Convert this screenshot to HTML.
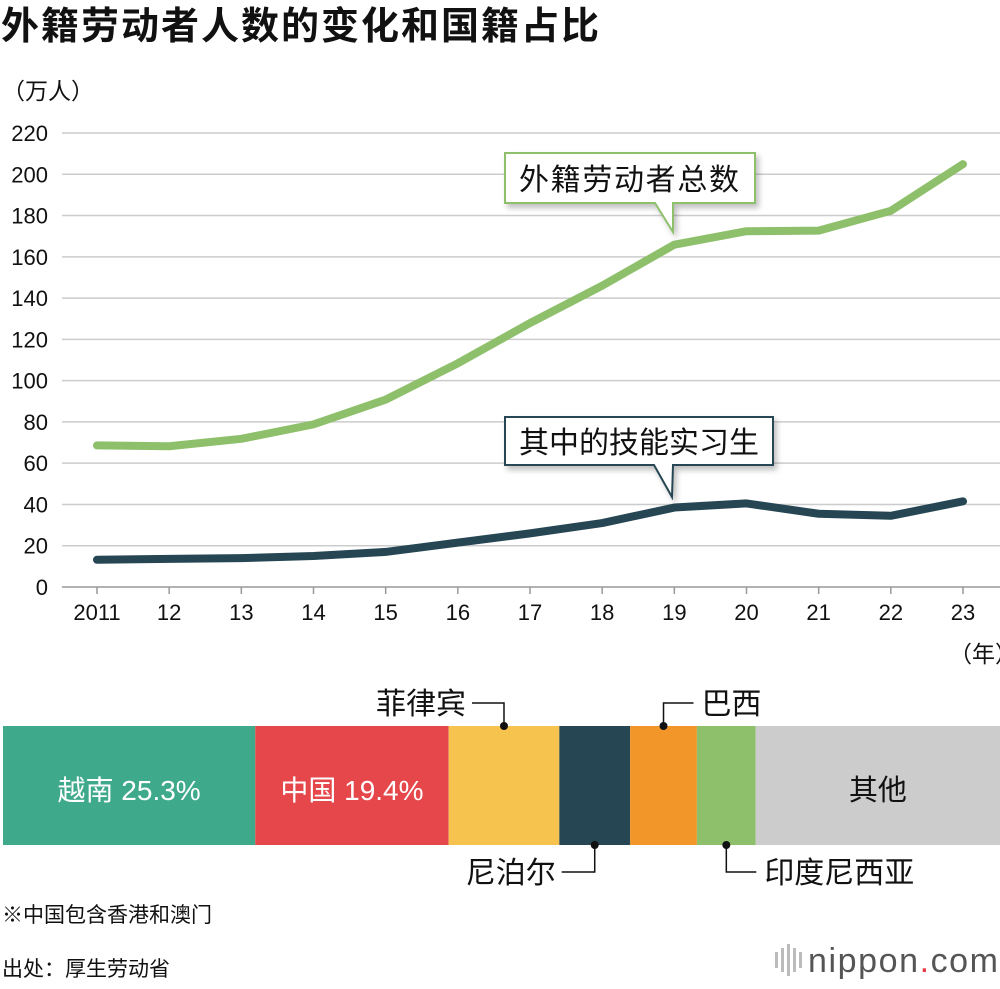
<!DOCTYPE html>
<html><head><meta charset="utf-8">
<style>
body{margin:0;background:#fff;width:1000px;height:984px;overflow:hidden;font-family:"Liberation Sans","Noto Sans CJK SC",sans-serif;}
svg text{font-family:"Liberation Sans","Noto Sans CJK SC",sans-serif;}
</style></head>
<body>
<svg id="c" width="1000" height="984" xmlns="http://www.w3.org/2000/svg">
<defs><filter id="sh" x="-10%" y="-10%" width="130%" height="140%"><feDropShadow dx="3" dy="4" stdDeviation="3" flood-color="#000" flood-opacity="0.25"/></filter></defs>
<text x="1" y="39" font-size="38" font-weight="bold" fill="#111" textLength="598">外籍劳动者人数的变化和国籍占比</text>
<text x="2" y="99" font-size="23" fill="#111">（万人）</text>
<g id="grid"></g>
<g id="lines"></g>
<g filter="url(#sh)">
<path d="M505,153 H755 V203 H673 L673,232 L655,203 H505 Z" fill="#fff" stroke="#8ec06c" stroke-width="2"/>
</g>
<text x="519" y="190" font-size="30" fill="#111" textLength="220">外籍劳动者总数</text>
<g filter="url(#sh)">
<path d="M505,417 H773 V465 H673 L672,497 L654,465 H505 Z" fill="#fff" stroke="#264653" stroke-width="2"/>
</g>
<text x="519" y="453" font-size="30" fill="#111" textLength="240">其中的技能实习生</text>
<text x="949" y="662" font-size="23" fill="#111">（年）</text>
<g id="bar"></g>
<text x="2" y="922" font-size="21" fill="#111">※中国包含香港和澳门</text>
<text x="2" y="976" font-size="21" fill="#111">出处：厚生劳动省</text>
<g>
<rect x="775" y="952" width="3" height="16" fill="#bbb"/><rect x="781" y="948" width="3" height="24" fill="#bbb"/><rect x="787" y="944" width="3" height="32" fill="#bbb"/><rect x="793" y="948" width="3" height="24" fill="#bbb"/><rect x="799" y="952" width="3" height="16" fill="#bbb"/>
<text x="808" y="972" font-size="34" fill="#555" textLength="190">nippon<tspan fill="#e63946">.</tspan>com</text>
</g>
</svg>
<script>
const years=["2011","12","13","14","15","16","17","18","19","20","21","22","23"];
const totalWorkers=[68.6,68.2,71.8,78.8,90.8,108.4,127.9,146.0,165.9,172.4,172.7,182.3,204.9];
const trainees=[13.2,13.6,14.0,15.0,17.0,21.5,26.0,31.0,38.5,40.5,35.5,34.5,41.5];
const yTicks=[0,20,40,60,80,100,120,140,160,180,200,220];
const shareNames=["越南","中国","菲律宾","尼泊尔","巴西","印度尼西亚","其他"];
const shareValues=[25.3,19.4,11.1,7.1,6.7,5.9,24.5];
const NS="http://www.w3.org/2000/svg";
const X=i=>97+i*(963-97)/12, Y=v=>587-v*(587-133)/220;
function mk(t,a,p){const e=document.createElementNS(NS,t);for(const k in a)e.setAttribute(k,a[k]);p.appendChild(e);return e;}
const grid=document.getElementById('grid');
yTicks.forEach(v=>{
 const l=mk('line',{x1:62,x2:1000,y1:Y(v),y2:Y(v),stroke:v===0?'#999':'#ccc','stroke-width':1.5},grid);
 
 
 const t=mk('text',{x:48,y:Y(v)+8,'font-size':22,'text-anchor':'end',fill:'#111'},grid);t.textContent=v;
 
 
});
years.forEach((y,i)=>{
 const k=mk('line',{x1:X(i),x2:X(i),y1:587,y2:594,stroke:'#999','stroke-width':1.5},grid);
 
 
 const t=mk('text',{x:X(i),y:620,'font-size':22,'text-anchor':'middle',fill:'#111'},grid);t.textContent=y;
 
 
});
const lines=document.getElementById('lines');
[[totalWorkers,'#8ec06c','total-workers-line'],[trainees,'#264653','trainees-line']].forEach(([d,c,n])=>{
 const p=mk('polyline',{points:d.map((v,i)=>X(i)+','+Y(v)).join(' '),fill:'none',stroke:c,'stroke-width':8,'stroke-linejoin':'round','stroke-linecap':'round'},lines);
 
 
});
const bar=document.getElementById('bar');
const colors=['#3fa98c','#e5474b','#f7c34f','#264653','#f2962a','#8ec06c','#cccccc'];
const total=shareValues.reduce((a,b)=>a+b,0);
let x0=3;const W=997;
shareValues.forEach((v,i)=>{
 const w=v/total*W;
 const r=mk('rect',{x:x0,y:726,width:w,height:119,fill:colors[i]},bar);
 
 
 const cx=x0+w/2;
 if(i===0||i===1){const t=mk('text',{x:cx,y:800,'font-size':28,'text-anchor':'middle',fill:'#fff'},bar);t.textContent=shareNames[i]+' '+v+'%';
  }
 else if(i===6){const t=mk('text',{x:cx,y:800,'font-size':29,'text-anchor':'middle',fill:'#111'},bar);t.textContent=shareNames[i];
  }
 else{
  const top=(i===2||i===4);
  const py=top?703:872;
  mk('circle',{cx:cx,cy:top?726:845,r:4,fill:'#111'},bar);
  const lx=(i===2)?cx-32:(i===3?cx-33:cx+30);
  mk('polyline',{points:`${cx},${top?726:845} ${cx},${py} ${lx},${py}`,fill:'none',stroke:'#111','stroke-width':1.5},bar);
  const left=(i===2||i===3);
  const t=mk('text',{x:left?lx-6:lx+8,y:py+11,'font-size':30,'text-anchor':left?'end':'start',fill:'#111'},bar);t.textContent=shareNames[i];
  
 }
 x0+=w;
});
</script>
</body></html>
